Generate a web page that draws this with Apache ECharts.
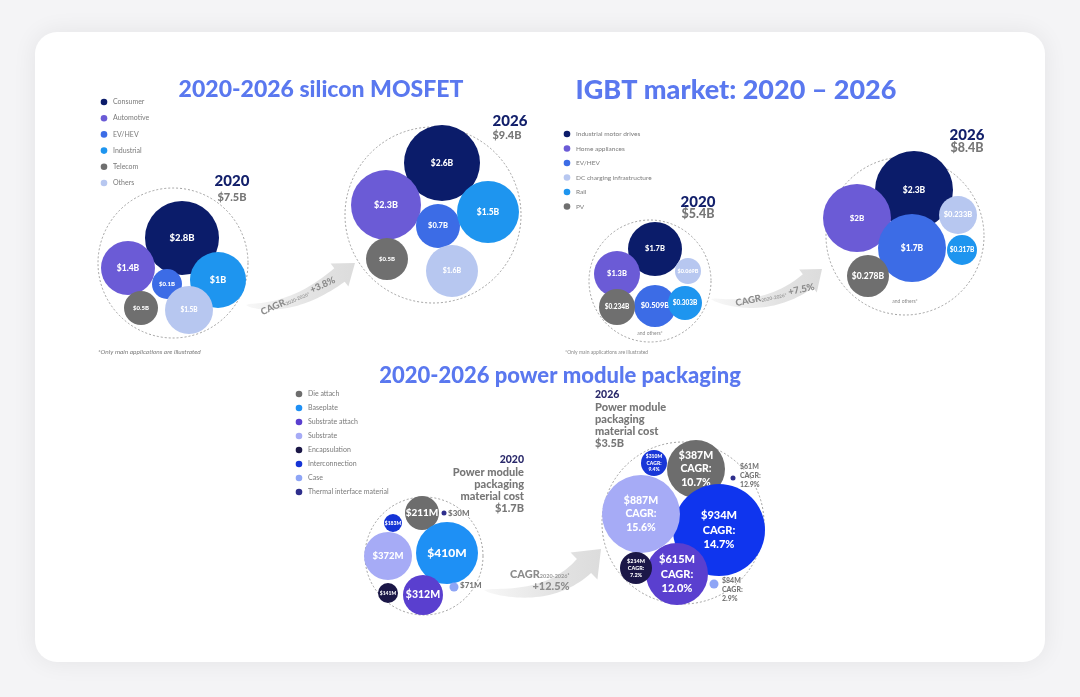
<!DOCTYPE html>
<html><head><meta charset="utf-8">
<script src="https://cdn.jsdelivr.net/npm/echarts@6/dist/echarts.min.js"></script>
<style>html,body{margin:0;padding:0;background:#f4f4f6;}#c{width:1080px;height:697px;}</style>
</head><body><div id="c"></div>
<script>
// ---------------- DATA ----------------
const mosfetCategories = ['Consumer', 'Automotive', 'EV/HEV', 'Industrial', 'Telecom', 'Others'];
const mosfet2020 = [2.8, 1.4, 0.1, 1, 0.5, 1.5];
const mosfet2026 = [2.6, 2.3, 0.7, 1.5, 0.5, 1.6];
const mosfetTotal2020 = 7.5, mosfetTotal2026 = 9.4, mosfetCagr = 3.8;

const igbtCategories = ['Industrial motor drives', 'Home appliances', 'EV/HEV', 'DC charging infrastructure', 'Rail', 'PV'];
const igbt2020 = [1.7, 1.3, 0.509, 0.069, 0.303, 0.234];
const igbt2026 = [2.3, 2, 1.7, 0.233, 0.317, 0.278];
const igbtTotal2020 = 5.4, igbtTotal2026 = 8.4, igbtCagr = 7.5;

const pmCategories = ['Die attach', 'Baseplate', 'Substrate attach', 'Substrate', 'Encapsulation', 'Interconnection', 'Case', 'Thermal interface material'];
const pm2020 = [211, 410, 312, 372, 141, 183, 71, 30];
const pm2026 = [387, 934, 615, 887, 214, 310, 84, 61];
const pmCagrBySegment = [10.7, 14.7, 12.0, 15.6, 7.2, 9.4, 2.9, 12.9];
const pmTotal2020 = 1.7, pmTotal2026 = 3.5, pmCagr = 12.5;

// ---------------- LAYOUT (bubble packing positions in page units) ----------------
// [cx, cy, r, fontSize, labelDx, labelDy]  (labelDx present => label outside)
const mosfet2020Layout = [[182,238,37,9.5],[128,268,27,8.5],[167,284,15,6],[218,280,28,9],[141,308,17,6],[189,310,24,6.5]];
const mosfet2026Layout = [[442,163,38,8.5],[386,205,35,9],[438,226,22,7.5],[488,212,31,8.5],[387,259,21,6],[452,271,26,7]];
const igbt2020Layout = [[655,249,27,7.5],[617,274,23,7.5],[655,306,21,7.5],[688,271,13,5.5],[685,303,17,6.5],[617,307,18,6.5]];
const igbt2026Layout = [[914,190,39,8.5],[857,218,34,8],[912,248,34,8.5],[958,215,19,7.5],[962,250,15,6.5],[868,276,21,8.5]];
const pm2020Layout = [[422,513,17,10],[447,553,31,12],[423,595,20,10.5],[388,556,24,9.5],[388,593,10,5],[393,523,9,5],[454,587,4.5,8,6,-2],[444,513,2.5,8,4,0]];
const pm2026Layout = [[696,469,29,10.5],[719,530,46,11],[677,574,31,11],[641,514,39,10.5],[636,568,16,5.5],[654,463,13,5],[714,584,4.5,7,8,6],[733,478,2.5,7,7,-2]];
const envelopeLayout = [[173,263,75],[433,215,88],[650,281,61],[905,236,79],[424,556,59],[683,523,81]];

// ---------------- STYLE ----------------
const appColors = ['#0b1c6a', '#6b5bd6', '#3c6ce6', '#1e95ef', '#6f6f6f', '#b7c7f0'];
const igbtColors = ['#0b1c6a', '#6b5bd6', '#3c6ce6', '#b7c7f0', '#1e95ef', '#6f6f6f'];
const pmLegendColors = ['#6d6d6d', '#1e90f5', '#5a3fcf', '#a6abf6', '#1b1747', '#1534d6', '#8ea5f6', '#2e2e8c'];
const pm2026Colors = ['#6d6d6d', '#0f35ee', '#5a3fcf', '#a6abf6', '#1b1747', '#1836d8', '#8ea5f6', '#2e2e8c'];
const FONT = 'Lato, "Open Sans", sans-serif';
const TITLE_C = '#5a78ef', NAVY = '#13206b', GREY = '#777777';
const HEAVY = '900';

function fmtB(v){ return '$' + v + 'B'; }
function fmtM(v){ return '$' + v + 'M'; }

function bubbleSeries(name, values, layout, colors, labelFn) {
  const meta = values.map((v, i) => ({ label: labelFn(v, i), color: colors[i], font: layout[i][3], dx: layout[i][4], dy: layout[i][5] }));
  return {
    type: 'custom', name, coordinateSystem: 'cartesian2d', silent: true, z: 3,
    data: values.map((v, i) => [layout[i][0], layout[i][1], layout[i][2], v]),
    renderItem: function (params, api) {
      const m = meta[params.dataIndex];
      const c = api.coord([api.value(0), api.value(1)]);
      const r = api.size([api.value(2), 0])[0];
      const outside = m.dx !== undefined;
      return {
        type: 'group', children: [
          { type: 'circle', shape: { cx: c[0], cy: c[1], r: r }, style: { fill: m.color } },
          { type: 'text', x: outside ? c[0] + m.dx : c[0], y: outside ? c[1] + m.dy : c[1],
            style: { text: m.label, fill: outside ? GREY : '#ffffff', fontSize: m.font, fontWeight: HEAVY, fontFamily: FONT,
              lineHeight: m.font * 1.3,
              align: outside ? 'left' : 'center', textAlign: outside ? 'left' : 'center',
              verticalAlign: 'middle', textVerticalAlign: 'middle' } }
        ]
      };
    }
  };
}

const envelopeSeries = {
  type: 'custom', name: 'envelope', coordinateSystem: 'cartesian2d', silent: true, z: 2,
  data: envelopeLayout,
  renderItem: function (params, api) {
    const c = api.coord([api.value(0), api.value(1)]);
    const r = api.size([api.value(2), 0])[0];
    return { type: 'circle', shape: { cx: c[0], cy: c[1], r: r }, style: { fill: 'none', stroke: '#8c8c8c', lineWidth: 0.8, lineDash: [2, 2] } };
  }
};

// ---------------- DECORATION HELPERS ----------------
function txt(x, y, text, size, color, opts) {
  opts = opts || {};
  const a = opts.align || 'center';
  return { type: 'text', x: x, y: y, z: 10, rotation: opts.rotation || 0,
    style: { text: text, fill: color, fontSize: size, fontWeight: opts.weight || HEAVY, fontFamily: FONT,
      fontStyle: opts.italic ? 'italic' : 'normal', rich: opts.rich,
      align: a, textAlign: a, verticalAlign: 'middle', textVerticalAlign: 'middle' } };
}
function legend(x, y0, dy, cats, colors, size) {
  const out = [];
  cats.forEach((c, i) => {
    out.push({ type: 'circle', z: 10, shape: { cx: x, cy: y0 + i * dy, r: 3.3 }, style: { fill: colors[i] } });
    out.push(txt(x + 9, y0 + i * dy, c, size, '#7a7a7a', { align: 'left', weight: 'normal' }));
  });
  return out;
}
function curvedArrow(p0, ctrl, pe, tip, bandW, headW) {
  const N = 30, up = [], lo = [];
  for (let k = 0; k <= N; k++) {
    const t = k / N, u = 1 - t;
    const px = u*u*p0[0] + 2*u*t*ctrl[0] + t*t*pe[0];
    const py = u*u*p0[1] + 2*u*t*ctrl[1] + t*t*pe[1];
    let tx = 2*u*(ctrl[0]-p0[0]) + 2*t*(pe[0]-ctrl[0]);
    let ty = 2*u*(ctrl[1]-p0[1]) + 2*t*(pe[1]-ctrl[1]);
    const l = Math.hypot(tx, ty); tx /= l; ty /= l;
    const w = bandW * Math.pow(t, 0.55) / 2;
    up.push([px - ty*w, py + tx*w]); lo.push([px + ty*w, py - tx*w]);
  }
  let tx = pe[0]-ctrl[0], ty = pe[1]-ctrl[1]; const l = Math.hypot(tx, ty); tx /= l; ty /= l;
  const hw = headW / 2;
  const pts = up.concat([[pe[0] - ty*hw, pe[1] + tx*hw], tip, [pe[0] + ty*hw, pe[1] - tx*hw]]).concat(lo.reverse());
  return { type: 'polygon', z: 1, shape: { points: pts },
    style: { fill: { type: 'linear', x: 0, y: 0, x2: 1, y2: 0, colorStops: [{ offset: 0, color: 'rgba(226,226,226,0.25)' }, { offset: 0.6, color: '#e3e3e3' }, { offset: 1, color: '#dcdcdc' }] } } };
}
const cagrRich = (size) => ({ a: { fontSize: size, fontWeight: HEAVY, fontFamily: FONT, fill: '#8c8c8c', verticalAlign: 'bottom' },
                              s: { fontSize: size * 0.5, fontWeight: 'bold', fontFamily: FONT, fill: '#9a9a9a', verticalAlign: 'bottom' } });

const deg = Math.PI / 180;
const graphics = [
  { type: 'rect', z: -5, shape: { x: 35, y: 32, width: 1010, height: 630, r: 22 }, style: { fill: '#ffffff', shadowBlur: 24, shadowColor: 'rgba(0,0,0,0.07)' } },
  // titles
  txt(321, 90, '2020-2026 silicon MOSFET', 23, TITLE_C),
  txt(736, 90, 'IGBT market: 2020 \u2013 2026', 27, TITLE_C),
  txt(560, 376, '2020-2026 power module packaging', 22, TITLE_C),
  // MOSFET
  txt(232, 181, '2020', 15, NAVY), txt(232, 197, fmtB(mosfetTotal2020), 11, GREY),
  txt(510, 121, '2026', 15, NAVY), txt(507, 135, fmtB(mosfetTotal2026), 11, GREY),
  txt(98, 352, '*Only main applications are illustrated', 6.5, '#7a7a7a', { align: 'left', weight: 'normal', italic: true }),
  curvedArrow([246, 305], [292, 312], [339.5, 275], [355, 263], 17, 29),
  txt(298, 296, '{a|CAGR}{s|2020-2026*}{a| +' + mosfetCagr + '%}', 9, '#8c8c8c', { rotation: 24 * deg, rich: cagrRich(9.5) }),
  // IGBT
  txt(698, 202, '2020', 15, NAVY), txt(698, 214, fmtB(igbtTotal2020), 12.5, GREY),
  txt(967, 135, '2026', 15, NAVY), txt(967, 148, fmtB(igbtTotal2026), 12.5, GREY),
  txt(650, 333, 'and others*', 5, '#8a8a8a', { weight: 'normal' }),
  txt(905, 301, 'and others*', 5, '#8a8a8a', { weight: 'normal' }),
  txt(565, 352, '*Only main applications are illustrated', 5, '#8a8a8a', { align: 'left', weight: 'normal' }),
  curvedArrow([711, 299], [766, 313], [808, 281], [822, 269], 17, 29),
  txt(775, 295, '{a|CAGR}{s|2020-2026*}{a| +' + igbtCagr + '%}', 9, '#8c8c8c', { rotation: 12 * deg, rich: cagrRich(9.5) }),
  // Power module
  txt(524, 460, '2020', 10.5, '#2b2a6b', { align: 'right' }),
  txt(524, 472, 'Power module', 11, GREY, { align: 'right' }),
  txt(524, 484, 'packaging', 11, GREY, { align: 'right' }),
  txt(524, 496, 'material cost', 11, GREY, { align: 'right' }),
  txt(524, 508, fmtB(pmTotal2020), 11, GREY, { align: 'right' }),
  txt(595, 395, '2026', 10.5, '#2b2a6b', { align: 'left' }),
  txt(595, 407, 'Power module', 11, GREY, { align: 'left' }),
  txt(595, 419, 'packaging', 11, GREY, { align: 'left' }),
  txt(595, 431, 'material cost', 11, GREY, { align: 'left' }),
  txt(595, 443, fmtB(pmTotal2026), 11, GREY, { align: 'left' }),
  curvedArrow([484, 590], [549, 601], [584, 566], [601, 549], 20, 38),
  txt(510, 574, '{a|CAGR}{s|2020-2026\u00B2}', 11, '#8c8c8c', { align: 'left', rich: cagrRich(11) }),
  txt(551, 586, '+' + pmCagr + '%', 11, '#8c8c8c')
].concat(
  legend(104, 102, 16.2, mosfetCategories, appColors, 7),
  legend(567, 134, 14.5, igbtCategories, igbtColors, 6.5),
  legend(299, 394, 14, pmCategories, pmLegendColors, 7)
);

// ---------------- CHART ----------------
const chart = echarts.init(document.getElementById('c'), null, { renderer: 'canvas' });
chart.setOption({
  backgroundColor: '#f4f4f6',
  animation: false,
  grid: { left: 0, right: 0, top: 0, bottom: 0 },
  xAxis: { type: 'value', min: 0, max: 1080, show: false },
  yAxis: { type: 'value', min: 0, max: 697, inverse: true, show: false },
  graphic: { elements: graphics },
  series: [
    envelopeSeries,
    bubbleSeries('MOSFET 2020', mosfet2020, mosfet2020Layout, appColors, v => fmtB(v)),
    bubbleSeries('MOSFET 2026', mosfet2026, mosfet2026Layout, appColors, v => fmtB(v)),
    bubbleSeries('IGBT 2020', igbt2020, igbt2020Layout, igbtColors, v => fmtB(v)),
    bubbleSeries('IGBT 2026', igbt2026, igbt2026Layout, igbtColors, v => fmtB(v)),
    bubbleSeries('PM 2020', pm2020, pm2020Layout, pmLegendColors, v => fmtM(v)),
    bubbleSeries('PM 2026', pm2026, pm2026Layout, pm2026Colors, (v, i) => fmtM(v) + '\nCAGR:\n' + pmCagrBySegment[i].toFixed(1) + '%')
  ]
});
</script></body></html>
